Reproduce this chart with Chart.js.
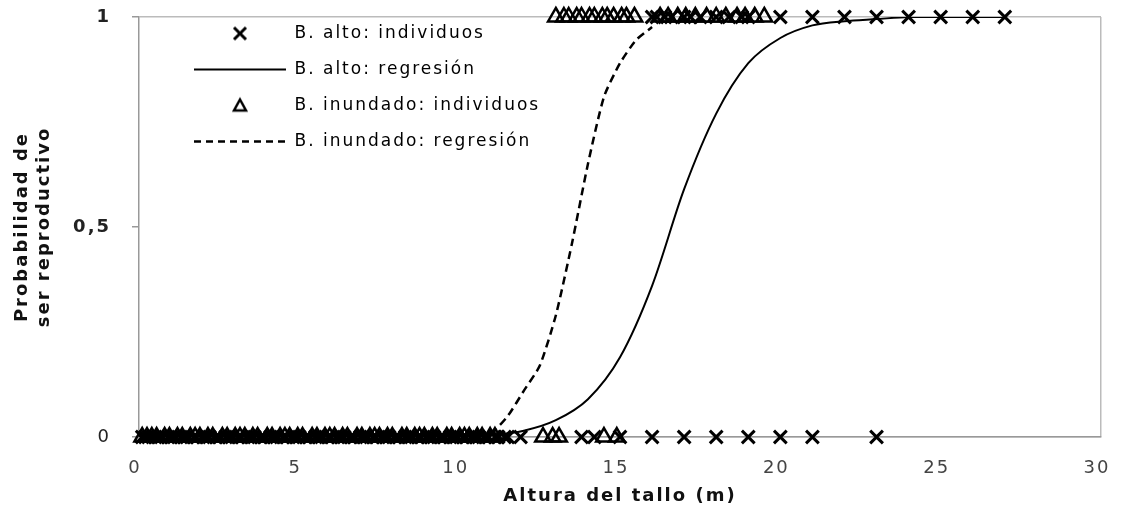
<!DOCTYPE html>
<html>
<head>
<meta charset="utf-8">
<script src="https://cdn.jsdelivr.net/npm/chart.js@4.4.0/dist/chart.umd.min.js"></script>
<style>
  body { margin: 0; background: #fff; }
  #wrap { width: 1127px; height: 517px; }
</style>
</head>
<body>
<div id="wrap"><canvas id="myChart" width="1127" height="517"></canvas></div>
<script>
// Values
// individuals (x = stem height, y = 0 or 1)
const altoZeroX = [0.1, 0.2, 0.3, 0.5, 0.6, 0.7, 0.9, 1.0, 1.1, 1.3, 1.4, 1.5, 1.7, 1.8, 2.0, 2.1, 2.2, 2.4, 2.5, 2.7,
  2.8, 2.9, 3.1, 3.2, 3.4, 3.5, 3.6, 3.8, 3.9, 4.1, 4.2, 4.3, 4.5, 4.6, 4.8, 4.9, 5.0, 5.2, 5.3, 5.5, 5.6, 5.7,
  5.9, 6.0, 6.2, 6.3, 6.4, 6.6, 6.7, 6.9, 7.0, 7.1, 7.3, 7.4, 7.6, 7.7, 7.8, 8.0, 8.1, 8.3, 8.4, 8.5, 8.7, 8.8,
  9.0, 9.1, 9.2, 9.4, 9.5, 9.7, 9.8, 9.9, 10.1, 10.2, 10.4, 10.5, 10.6, 10.8, 10.9, 11.1, 11.2, 11.4, 11.5,
  11.9, 13.8, 14.2, 15.0, 16, 17, 18, 19, 20, 21, 23];
const altoOneX = [16.0, 16.15, 16.4, 16.6, 17.0, 17.2, 17.5, 18.0, 18.4, 18.8, 19.0, 20, 21, 22, 23, 24, 25, 26, 27];
const inunZeroX = [0.1, 0.25, 0.4, 0.55, 0.8, 0.95, 1.2, 1.35, 1.6, 1.75, 1.9, 2.15, 2.3, 2.6, 2.75, 3.0, 3.15, 3.3,
  3.55, 3.7, 4.0, 4.15, 4.4, 4.55, 4.7, 4.95, 5.1, 5.4, 5.55, 5.8, 5.95, 6.1, 6.35, 6.5, 6.8, 6.95, 7.2, 7.35,
  7.5, 7.75, 7.9, 8.2, 8.35, 8.6, 8.75, 8.9, 9.15, 9.3, 9.6, 9.75, 10.0, 10.15, 10.3, 10.55, 10.7, 10.95, 11.1,
  12.6, 12.9, 13.1, 14.5, 14.9];
const inunOneX = [13.0, 13.25, 13.4, 13.65, 13.8, 14.05, 14.2, 14.45, 14.6, 14.8, 15.05, 15.2, 15.45, 16.25, 16.5,
  16.8, 17.05, 17.35, 17.7, 18.0, 18.3, 18.65, 18.9, 19.2, 19.5];

// regression curves
const altoRegX = [0, 2, 4, 6, 8, 10, 11, 12, 13, 14, 15, 16, 17, 18, 19, 20, 21, 22, 23, 24, 25, 26, 27];
const altoRegY = [0, 0, 0, 0, 0, 0.002, 0.005, 0.015, 0.04, 0.09, 0.19, 0.36, 0.59, 0.77, 0.89, 0.95, 0.98, 0.99, 0.995, 1, 1, 1, 1];
const inunRegX = [0, 2, 4, 6, 8, 10, 11, 11.5, 12, 12.5, 13, 13.5, 14, 14.5, 15, 15.5, 16];
const inunRegY = [0, 0, 0, 0, 0, 0.003, 0.012, 0.05, 0.11, 0.17, 0.29, 0.46, 0.65, 0.81, 0.89, 0.945, 0.976];

const xTicks = [0, 5, 10, 15, 20, 25, 30];
const yTicks = [0, 0.5, 1];
const yTickLabels = ['0', '0,5', '1'];

const legendLabels = ['B. alto: individuos', 'B. alto: regresión', 'B. inundado: individuos', 'B. inundado: regresión'];

Chart.defaults.font.family = 'DejaVu Sans';

const atY = (xs, y) => xs.map(x => ({ x: x, y: y }));
const pairs = (xs, ys) => xs.map((x, i) => ({ x: x, y: ys[i] }));

// small marker images for the legend (so they don't get stretched)
function makeIcon(draw) {
  const c = document.createElement('canvas');
  c.width = 20; c.height = 20;
  const g = c.getContext('2d');
  g.strokeStyle = '#000';
  draw(g);
  return c;
}
const crossIcon = makeIcon(g => {
  g.lineWidth = 3;
  g.beginPath();
  g.moveTo(4, 4); g.lineTo(16, 16);
  g.moveTo(16, 4); g.lineTo(4, 16);
  g.stroke();
});
const triIcon = makeIcon(g => {
  g.lineWidth = 2.5;
  g.beginPath();
  g.moveTo(10, 4); g.lineTo(16, 15); g.lineTo(4, 15);
  g.closePath();
  g.stroke();
});

const legendItems = [
  { text: legendLabels[0], pointStyle: crossIcon, fillStyle: '#000', strokeStyle: '#000', lineWidth: 0, hidden: false, datasetIndex: 0 },
  { text: legendLabels[1], pointStyle: 'line', fillStyle: '#000', strokeStyle: '#000', lineWidth: 2, lineDash: [], hidden: false, datasetIndex: 1 },
  { text: legendLabels[2], pointStyle: triIcon, fillStyle: '#000', strokeStyle: '#000', lineWidth: 0, hidden: false, datasetIndex: 2 },
  { text: legendLabels[3], pointStyle: 'line', fillStyle: '#000', strokeStyle: '#000', lineWidth: 2.5, lineDash: [7, 5], hidden: false, datasetIndex: 3 }
];

// wide letter spacing like the scanned original, and move the in-plot legend
const textLook = {
  id: 'textLook',
  beforeUpdate(chart) { chart.ctx.letterSpacing = '2px'; },
  beforeLayout(chart) { chart.ctx.letterSpacing = '2px'; },
  afterLayout(chart) {
    chart.legend.left += 36;
    chart.legend.top += 6;
  },
  beforeDraw(chart) { chart.ctx.letterSpacing = '2px'; }
};

const ctx = document.getElementById('myChart');

new Chart(ctx, {
  type: 'scatter',
  data: {
    datasets: [
      {
        label: legendLabels[0],
        data: atY(altoZeroX, 0).concat(atY(altoOneX, 1)),
        pointStyle: 'crossRot',
        pointRadius: 9,
        pointBorderWidth: 3,
        pointBorderColor: '#000',
        pointBackgroundColor: '#000',
        clip: false
      },
      {
        label: legendLabels[1],
        data: pairs(altoRegX, altoRegY),
        showLine: true,
        pointRadius: 0,
        borderColor: '#000',
        borderWidth: 2,
        tension: 0.3
      },
      {
        label: legendLabels[2],
        data: atY(inunZeroX, 0).concat(atY(inunOneX, 1)),
        pointStyle: 'triangle',
        pointRadius: 9,
        pointBorderWidth: 2.5,
        pointBorderColor: '#000',
        pointBackgroundColor: 'rgba(255,255,255,0)',
        clip: false
      },
      {
        label: legendLabels[3],
        data: pairs(inunRegX, inunRegY),
        showLine: true,
        pointRadius: 0,
        borderColor: '#000',
        borderWidth: 2.5,
        borderDash: [8, 5],
        tension: 0.2
      }
    ]
  },
  options: {
    responsive: false,
    animation: false,
    devicePixelRatio: 1,
    layout: { padding: { left: 0, top: 17, right: 26, bottom: 0 } },
    plugins: {
      tooltip: { enabled: false },
      legend: {
        position: 'chartArea',
        align: 'start',
        labels: {
          usePointStyle: true,
          pointStyleWidth: 92,
          boxHeight: 17,
          padding: 19,
          color: '#333',
          font: { family: 'DejaVu Sans', size: 17 },
          generateLabels: () => legendItems
        }
      }
    },
    scales: {
      x: {
        type: 'linear',
        min: 0,
        max: 30,
        afterBuildTicks: s => { s.ticks = xTicks.map(v => ({ value: v })); },
        afterFit: s => { s.height = 80; s.paddingLeft = 0; s.paddingRight = 0; },
        grid: {
          drawTicks: false,
          lineWidth: 1.5,
          color: c => (c.tick && c.tick.value === 30 ? '#bbb' : 'rgba(0,0,0,0)')
        },
        border: { display: true, color: '#999', width: 1.5 },
        ticks: { padding: 21, labelOffset: -4, color: '#444', font: { size: 18 } },
        title: {
          display: true,
          text: 'Altura del tallo (m)',
          color: '#111',
          font: { size: 18, weight: 'bold' },
          padding: { top: 0, bottom: 10 }
        }
      },
      y: {
        min: 0,
        max: 1,
        afterBuildTicks: s => { s.ticks = yTicks.map(v => ({ value: v })); },
        afterFit: s => { s.width = 139; s.paddingTop = 0; s.paddingBottom = 0; },
        grid: {
          lineWidth: 1.5,
          tickLength: 7,
          tickColor: '#999',
          color: c => (c.tick && c.tick.value === 0.5 ? 'rgba(0,0,0,0)' : '#bbb')
        },
        border: { color: '#999', width: 1.5 },
        ticks: {
          padding: 21,
          color: '#222',
          font: c => ({ size: 18, weight: c.tick && c.tick.value === 0 ? 'normal' : 'bold' }),
          callback: v => yTickLabels[yTicks.indexOf(v)]
        },
        title: {
          display: true,
          text: ['Probabilidad de', 'ser reproductivo'],
          color: '#111',
          font: { size: 18, weight: 'bold' },
          padding: { top: 12, bottom: 0 }
        }
      }
    }
  },
  plugins: [textLook]
});
</script>
</body>
</html>
